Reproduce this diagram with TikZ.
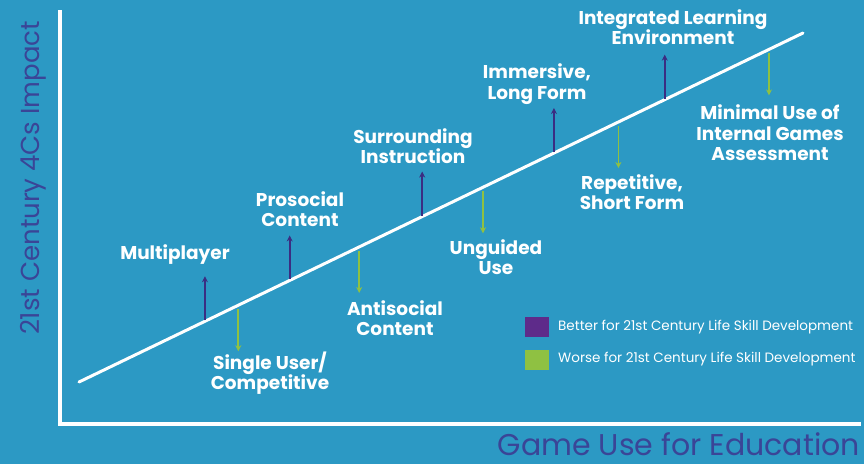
\documentclass[tikz,border=0pt]{standalone}
\usepackage{fontspec}
\setmainfont{Poppins}
\usetikzlibrary{arrows.meta,calc}
\definecolor{oceanblue}{HTML}{2C99C4}
\definecolor{inkblue}{HTML}{3A4597}
\definecolor{betterpurple}{HTML}{3B2D82}
\definecolor{worsegreen}{HTML}{8FC142}
\definecolor{legendpurple}{HTML}{5E2B8A}

\begin{document}
\begin{tikzpicture}[x=1pt,y=-1pt,
	axis/.style={draw=white,line width=4pt},
	trend/.style={draw=white,line width=3pt,line cap=round},
	better/.style={draw=betterpurple,line width=2pt,-{Stealth[length=6pt,width=6pt]}},
	worse/.style={draw=worsegreen,line width=1.6pt,-{Stealth[length=6pt,width=6pt]}},
	factor/.style={text=white,font=\fontsize{18.5}{20.5}\selectfont\bfseries,align=center},
	legendbox/.style={minimum width=24pt,minimum height=20pt,inner sep=0pt},
	legendtext/.style={text=white,font=\fontsize{13.5}{15}\selectfont,anchor=west,inner sep=0pt}
	]
	\useasboundingbox (0,0) rectangle (864,464);
	\fill[oceanblue] (0,0) rectangle (864,464);

	% axes
	\coordinate (origin) at (60,424);
	\coordinate (ytop) at (60,10);
	\coordinate (xend) at (861,424);
	\draw[axis] (ytop) -- (origin) -- (xend);
	\node[text=inkblue,font=\fontsize{26}{28}\selectfont,rotate=90] (ylabel) at (33,178) {21st Century 4Cs Impact};
	\node[text=inkblue,font=\fontsize{30}{32}\selectfont,anchor=base east,inner sep=0pt] (xlabel) at (860,455) {Game Use for Education};

	% trend line
	\coordinate (t0) at (79,382);
	\coordinate (t1) at (803,33);
	\draw[trend] (t0) -- (t1);

	% better: arrows up from the line
	\foreach \f/\n in {0.174/multi,0.291/prosoc,0.474/surr,0.656/immer,0.809/integ}{
		\coordinate (\n-base) at ($(t0)!\f!(t1)+(0,-1)$);
		\coordinate (\n-tip) at ($(\n-base)+(0,-44)$);
		\draw[better] (\n-base) -- (\n-tip);
	}
	% worse: arrows down under the line
	\foreach \f/\n in {0.220/single,0.387/antisoc,0.558/unguid,0.745/repet,0.953/minim}{
		\coordinate (\n-base) at ($(t0)!\f!(t1)+(0,4)$);
		\coordinate (\n-tip) at ($(\n-base)+(0,42)$);
		\draw[worse] (\n-base) -- (\n-tip);
	}

	\node[factor] (multi) at (175,255) {Multiplayer};
	\node[factor] (single) at (270,373) {Single User/\\Competitive};
	\node[factor] (prosoc) at (300,209) {Prosocial\\Content};
	\node[factor] (antisoc) at (395,318) {Antisocial\\Content};
	\node[factor] (surr) at (413,146) {Surrounding\\Instruction};
	\node[factor] (unguid) at (496,257) {Unguided\\Use};
	\node[factor] (immer) at (537,84) {Immersive,\\Long Form};
	\node[factor] (repet) at (632,192) {Repetitive,\\Short Form};
	\node[factor] (integ) at (673,27) {Integrated Learning\\Environment};
	\node[factor] (minim) at (770,133) {Minimal Use of\\Internal Games\\Assessment};

	% legend
	\node[legendbox,fill=legendpurple] (keybetter) at (537,327) {};
	\node[legendbox,fill=worsegreen] (keyworse) at (537,360) {};
	\node[legendtext] (keybettertext) at (558,327) {Better for 21st Century Life Skill Development};
	\node[legendtext] (keyworsetext) at (558,359) {Worse for 21st Century Life Skill Development};
\end{tikzpicture}
\end{document}
